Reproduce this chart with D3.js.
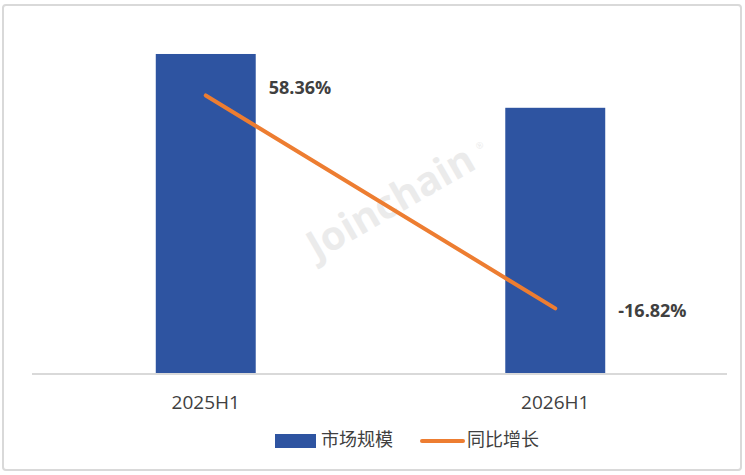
<!DOCTYPE html>
<html>
<head>
<meta charset="utf-8">
<script src="https://cdn.jsdelivr.net/npm/d3@7"></script>
<style>
  body { margin: 0; background: #fff; }
  svg text { font-family: "Open Sans", "Noto Sans CJK SC", sans-serif; }
</style>
</head>
<body>
<svg id="chart" width="745" height="475"></svg>
<script>
// data
const categories = ["2025H1", "2026H1"];
const marketSize = [9.04, 7.52];        // 市场规模 (no axis shown, relative heights)
const growth = [58.36, -16.82];         // 同比增长 %
const growthLabels = ["58.36%", "-16.82%"];
const legendItems = ["市场规模", "同比增长"];

const blue = "#2E54A1";
const orange = "#ED7D31";
const textColor = "#404040";

const svg = d3.select("#chart");

// frame
svg.append("rect")
  .attr("x", 3).attr("y", 5)
  .attr("width", 738).attr("height", 465)
  .attr("rx", 3)
  .attr("fill", "#fff")
  .attr("stroke", "#d9d9d9")
  .attr("stroke-width", 2);

const plot = { left: 32, right: 727, top: 20, bottom: 374 };

const x = d3.scaleBand()
  .domain(categories)
  .range([31, 730])
  .paddingInner(0.714)
  .paddingOuter(0.357);

const xc = d => x(d) + x.bandwidth() / 2;

const y = d3.scaleLinear()
  .domain([0, 10])
  .range([plot.bottom, plot.top]);

const y2 = d3.scaleLinear()
  .domain([-40, 85])
  .range([plot.bottom, plot.top]);

// watermark
svg.append("text")
  .attr("transform", "translate(392,205) rotate(-30)")
  .attr("text-anchor", "middle")
  .attr("dominant-baseline", "middle")
  .attr("fill", "#ebebeb")
  .style("font-family", "'Open Sans', sans-serif")
  .style("font-weight", "bold")
  .style("font-size", "40px")
  .text("Joinchain");
svg.append("text")
  .attr("transform", "translate(478,150) rotate(-30)")
  .attr("fill", "#ebebeb")
  .style("font-size", "9px")
  .text("®");

// bars
svg.append("g")
  .selectAll("rect")
  .data(categories)
  .join("rect")
    .attr("x", d => x(d))
    .attr("y", (d, i) => y(marketSize[i]))
    .attr("width", x.bandwidth())
    .attr("height", (d, i) => plot.bottom - y(marketSize[i]))
    .attr("fill", blue);

// x axis
const xAxis = svg.append("g")
  .attr("transform", `translate(0,${plot.bottom})`)
  .call(d3.axisBottom(x).tickSize(0).tickPadding(22));
xAxis.select(".domain").remove();
xAxis.append("line")
  .attr("x1", plot.left).attr("x2", plot.right)
  .attr("stroke", "#d9d9d9")
  .attr("stroke-width", 2);
xAxis.selectAll("text")
  .attr("fill", textColor)
  .style("font-size", "19px");

// growth line
const line = d3.line()
  .x((d, i) => xc(categories[i]))
  .y(d => y2(d));

svg.append("path")
  .datum(growth)
  .attr("d", line)
  .attr("fill", "none")
  .attr("stroke", orange)
  .attr("stroke-width", 4)
  .attr("stroke-linecap", "round");

svg.append("g")
  .selectAll("text")
  .data(growth)
  .join("text")
    .attr("x", (d, i) => xc(categories[i]) + 63)
    .attr("y", (d, i) => y2(d) + (i === 0 ? -6 : 4))
    .attr("dominant-baseline", "middle")
    .attr("fill", textColor)
    .style("font-size", "18px")
    .style("font-weight", "bold")
    .text((d, i) => growthLabels[i]);

// legend
const legend = svg.append("g")
  .attr("transform", "translate(0,441)");

legend.append("rect")
  .attr("x", 275).attr("y", -7)
  .attr("width", 41).attr("height", 14)
  .attr("fill", blue);
legend.append("line")
  .attr("x1", 422).attr("x2", 463)
  .attr("y1", 0).attr("y2", 0)
  .attr("stroke", orange)
  .attr("stroke-width", 4)
  .attr("stroke-linecap", "round");

legend.selectAll(".legend-label")
  .data(legendItems)
  .join("text")
    .attr("class", "legend-label")
    .attr("x", (d, i) => i === 0 ? 321 : 467)
    .attr("y", 0)
    .attr("dominant-baseline", "middle")
    .attr("fill", textColor)
    .style("font-size", "18px")
    .text(d => d);
</script>
</body>
</html>
